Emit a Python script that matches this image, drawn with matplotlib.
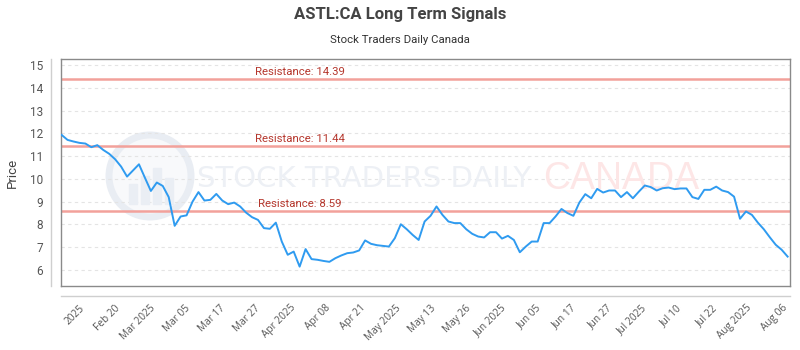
import numpy as np
import matplotlib.pyplot as plt
from matplotlib.patches import Ellipse, Rectangle
from matplotlib.lines import Line2D

# closing prices, one per trading session
prices = [
    11.93, 11.71, 11.64, 11.58, 11.55, 11.39, 11.48, 11.27, 11.10, 10.86,
    10.54, 10.10, 10.37, 10.64, 10.05, 9.47, 9.84, 9.69, 9.20, 7.94,
    8.35, 8.40, 9.00, 9.42, 9.05, 9.08, 9.34, 9.05, 8.89, 8.96,
    8.79, 8.52, 8.32, 8.20, 7.84, 7.81, 8.08, 7.25, 6.67, 6.81,
    6.15, 6.92, 6.48, 6.45, 6.40, 6.36, 6.52, 6.64, 6.74, 6.77,
    6.86, 7.30, 7.15, 7.09, 7.06, 7.03, 7.40, 8.01, 7.79, 7.54,
    7.32, 8.13, 8.38, 8.79, 8.42, 8.13, 8.06, 8.06, 7.79, 7.59,
    7.47, 7.43, 7.66, 7.66, 7.38, 7.50, 7.32, 6.78, 7.03, 7.25,
    7.25, 8.06, 8.06, 8.35, 8.68, 8.50, 8.38, 8.96, 9.33, 9.15,
    9.56, 9.40, 9.49, 9.49, 9.20, 9.42, 9.15, 9.44, 9.71, 9.64,
    9.49, 9.59, 9.62, 9.55, 9.58, 9.58, 9.20, 9.12, 9.52, 9.52,
    9.66, 9.49, 9.42, 9.22, 8.25, 8.57, 8.42, 8.08, 7.79, 7.44,
    7.11, 6.89, 6.59,
]

resistance = [14.39, 11.44, 8.59]

tick_labels = ['2025', 'Feb 20', 'Mar 2025', 'Mar 05', 'Mar 17', 'Mar 27',
               'Apr 2025', 'Apr 08', 'Apr 21', 'May 2025', 'May 13', 'May 26',
               'Jun 2025', 'Jun 05', 'Jun 17', 'Jun 27', 'Jul 2025', 'Jul 10',
               'Jul 22', 'Aug 2025', 'Aug 06']

plt.rcParams['font.family'] = ['Roboto', 'DejaVu Sans']

fig = plt.figure(figsize=(8, 3.5), dpi=100)
ax = fig.add_axes([61 / 800, 64 / 350, 729 / 800, 227 / 350])

x = np.arange(len(prices))

# watermark (logo + text), kept faint behind the data
ax.add_patch(Ellipse((150 / 800, 1 - 176 / 350), 82 / 800, 82 / 350,
                     transform=fig.transFigure, facecolor='#f8f9fb',
                     edgecolor='#e9edf3', lw=5, zorder=0.5))
for i, h in enumerate([20, 28, 36, 26]):
    ax.add_patch(Rectangle(((129 + i * 12) / 800, 1 - 204 / 350), 8 / 800, h / 350,
                           transform=fig.transFigure, color='#eaeef4', zorder=0.6))
ax.text(364 / 800, 1 - 179 / 350, 'STOCK TRADERS DAILY', transform=fig.transFigure,
        ha='center', va='center', fontsize=21, color='#edf0f5',
        family=['Liberation Sans Narrow', 'DejaVu Sans'], zorder=0.6)
ax.text(621 / 800, 1 - 179 / 350, 'CANADA', transform=fig.transFigure,
        ha='center', va='center', fontsize=27, color='#fde6e6',
        family=['Liberation Sans', 'DejaVu Sans'], zorder=0.6)

ax.plot(x, prices, color='#2f9bf0', lw=1.4, zorder=3)

for r in resistance:
    ax.axhline(r, color='#f2a19b', lw=1.8, zorder=2)
    ax.text(0.328, r + 0.1, f'Resistance: {r:.2f}', transform=ax.get_yaxis_transform(),
            ha='center', va='bottom', fontsize=8.2, color='#b5372d', zorder=4)

ax.set_xlim(-0.1, 122.4)
ax.set_ylim(5.3, 15.26)
ax.set_yticks(range(6, 16))
ax.yaxis.grid(True, color='#e4e4e4', ls=(0, (3, 3)), lw=0.8)
ax.set_axisbelow(True)

ax.set_xticks(3.0 + np.arange(len(tick_labels)) * 5.9)
ax.set_xticklabels(tick_labels, rotation=45, ha='right', rotation_mode='anchor',
                   fontsize=7.3, color='#555555', family=['Open Sans', 'DejaVu Sans'])
ax.tick_params(axis='x', length=0, pad=12)
ax.tick_params(axis='y', length=0, pad=13, labelsize=8.5, labelcolor='#555555')
ax.set_ylabel('Price', fontsize=9.5, color='#444444', labelpad=8)

for s in ax.spines.values():
    s.set_color('#8a8a8a')
    s.set_linewidth(1)

# offset axis lines
fig.add_artist(Line2D([51 / 800, 51 / 800], [1 - 59 / 350, 1 - 286 / 350],
                      color='#cfcfcf', lw=1))
fig.add_artist(Line2D([61 / 800, 790 / 800], [1 - 296 / 350, 1 - 296 / 350],
                      color='#cfcfcf', lw=1))

fig.text(0.5, 1 - 15 / 350, 'ASTL:CA Long Term Signals', ha='center', va='center',
         fontsize=12, fontweight='bold', color='#444444')
fig.text(0.5, 1 - 40 / 350, 'Stock Traders Daily Canada', ha='center', va='center',
         fontsize=8.2, color='#333333')

fig.savefig('out.png', dpi=100)
